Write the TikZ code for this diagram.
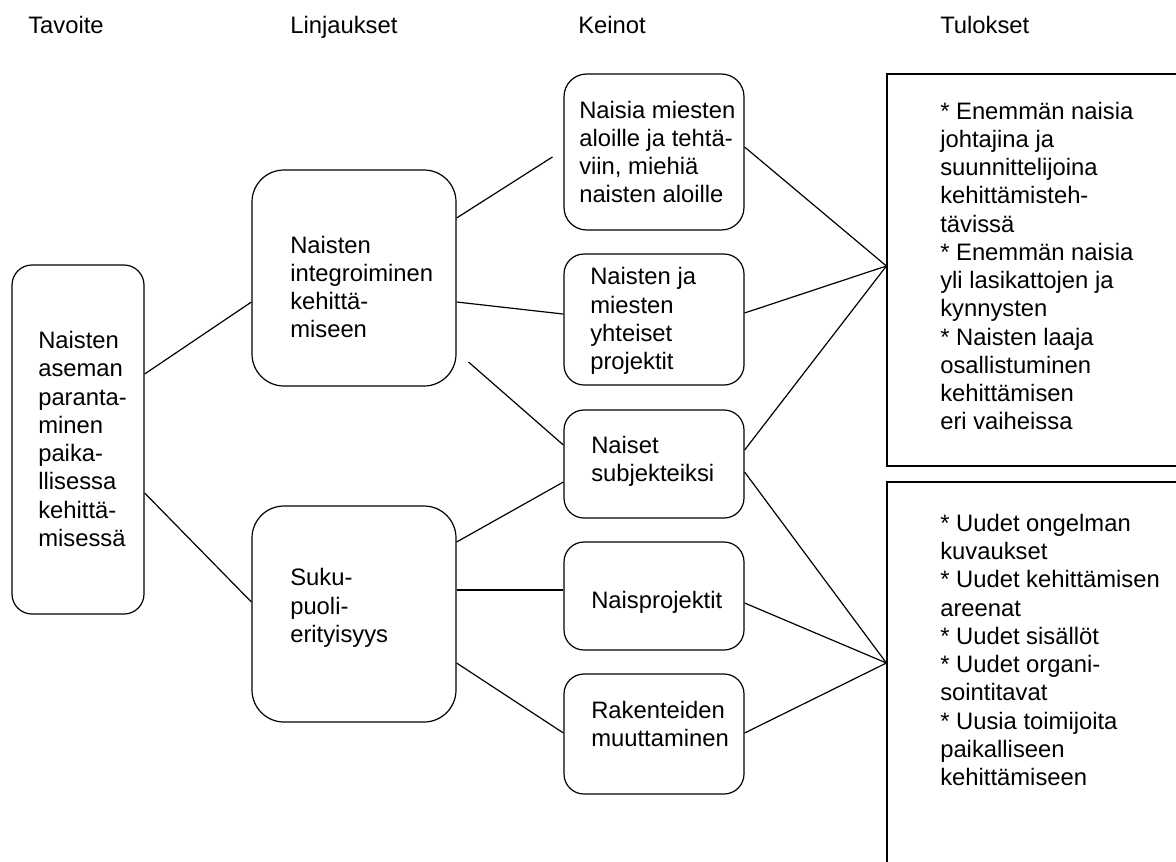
\documentclass[tikz,border=0pt]{standalone}
\usepackage{fontspec}
\setmainfont{Liberation Sans}
\begin{document}
\begin{tikzpicture}[x=0.75pt,y=-0.75pt,
  box/.style={draw, line width=0.9pt, rounded corners=15pt, inner sep=0pt},
  sqbox/.style={draw, line width=0.9pt, inner sep=0pt},
  txt/.style={anchor=west, align=left, inner sep=0pt, font=\fontsize{17.85pt}{21.2pt}\selectfont},
  head/.style={anchor=base west, inner sep=0pt, font=\fontsize{17.85pt}{21.2pt}\selectfont},
  conn/.style={line width=0.9pt}]
\useasboundingbox (0,0) rectangle (1176,861);
\clip (0,0) rectangle (1176,861);
% headers
\node[head] (h1) at (28,33) {Tavoite};
\node[head] (h2) at (290,33) {Linjaukset};
\node[head] (h3) at (578,33) {Keinot};
\node[head] (h4) at (940,33) {Tulokset};
% boxes
\node[box, minimum width=99pt, minimum height=261.75pt] (goal) at (78,439.5) {};
\node[box, rounded corners=24pt, minimum width=153pt, minimum height=162pt] (integ) at (354,278) {};
\node[box, rounded corners=24pt, minimum width=153pt, minimum height=162pt] (suku) at (354,614) {};
\node[box, rounded corners=17pt, minimum width=135pt, minimum height=117pt] (k1) at (654,152) {};
\node[box, minimum width=135pt, minimum height=98.25pt] (k2) at (654,319.5) {};
\node[box, minimum width=135pt, minimum height=81pt] (k3) at (654,464) {};
\node[box, minimum width=135pt, minimum height=81pt] (k4) at (654,596) {};
\node[box, minimum width=135pt, minimum height=90pt] (k5) at (654,734) {};
\node[sqbox, minimum width=300pt, minimum height=294pt] (r1) at (1087,270) {};
\node[sqbox, minimum width=300pt, minimum height=313.5pt] (r2) at (1087,691) {};
% texts
\node[txt] (tgoal) at (38,439) {Naisten\\aseman\\paranta-\\minen\\paika-\\llisessa\\kehittä-\\misessä};
\node[txt] (tinteg) at (290,287) {Naisten\\integroiminen\\kehittä-\\miseen};
\node[txt] (tsuku) at (290,608) {Suku-\\puoli-\\erityisyys};
\node[txt] (tk1) at (579,152) {Naisia miesten\\aloille ja tehtä-\\viin, miehiä\\naisten aloille};
\node[txt] (tk2) at (590,321) {Naisten ja\\miesten\\yhteiset\\projektit};
\node[txt] (tk3) at (591,461) {Naiset\\subjekteiksi};
\node[txt] (tk4) at (591,602) {Naisprojektit};
\node[txt] (tk5) at (591,724) {Rakenteiden\\muuttaminen};
\node[txt] (tr1) at (940,266) {* Enemmän naisia\\johtajina ja\\suunnittelijoina\\kehittämisteh-\\tävissä\\* Enemmän naisia\\yli lasikattojen ja\\kynnysten\\* Naisten laaja\\osallistuminen\\kehittämisen\\eri vaiheissa};
\node[txt] (tr2) at (940,650) {* Uudet ongelman\\kuvaukset\\* Uudet kehittämisen\\areenat\\* Uudet sisällöt\\* Uudet organi-\\sointitavat\\* Uusia toimijoita\\paikalliseen\\kehittämiseen};
% convergence points
\coordinate (c1) at ([yshift=3pt]r1.west);
\coordinate (c2) at ([yshift=21pt]r2.west);
% connectors
\draw[conn] ([yshift=49.1pt]goal.east) -- ([yshift=-18pt]integ.west);
\draw[conn] ([yshift=-40.1pt]goal.east) -- ([yshift=9pt]suku.west);
\draw[conn, shorten >=9.7pt] ([yshift=45pt]integ.east) -- ([yshift=1.5pt]k1.west);
\draw[conn] ([yshift=-18pt]integ.east) -- ([yshift=4.1pt]k2.west);
\draw[conn, shorten <=11.9pt] ([yshift=-55.2pt]integ.east) -- ([yshift=14.25pt]k3.west);
\draw[conn] ([yshift=54pt]suku.east) -- ([yshift=-13.5pt]k3.west);
\draw[conn] ([yshift=18pt]suku.east) -- ([yshift=4.5pt]k4.west);
\draw[conn] ([yshift=-36.75pt]suku.east) -- ([yshift=0.75pt]k5.west);
\draw[conn] ([yshift=3.75pt]k1.east) -- (c1);
\draw[conn] ([yshift=4.9pt]k2.east) -- (c1);
\draw[conn] ([yshift=10.5pt]k3.east) -- (c1);
\draw[conn] ([yshift=-6pt]k3.east) -- (c2);
\draw[conn] ([yshift=-5.25pt]k4.east) -- (c2);
\draw[conn] ([yshift=0.75pt]k5.east) -- (c2);
\end{tikzpicture}
\end{document}
